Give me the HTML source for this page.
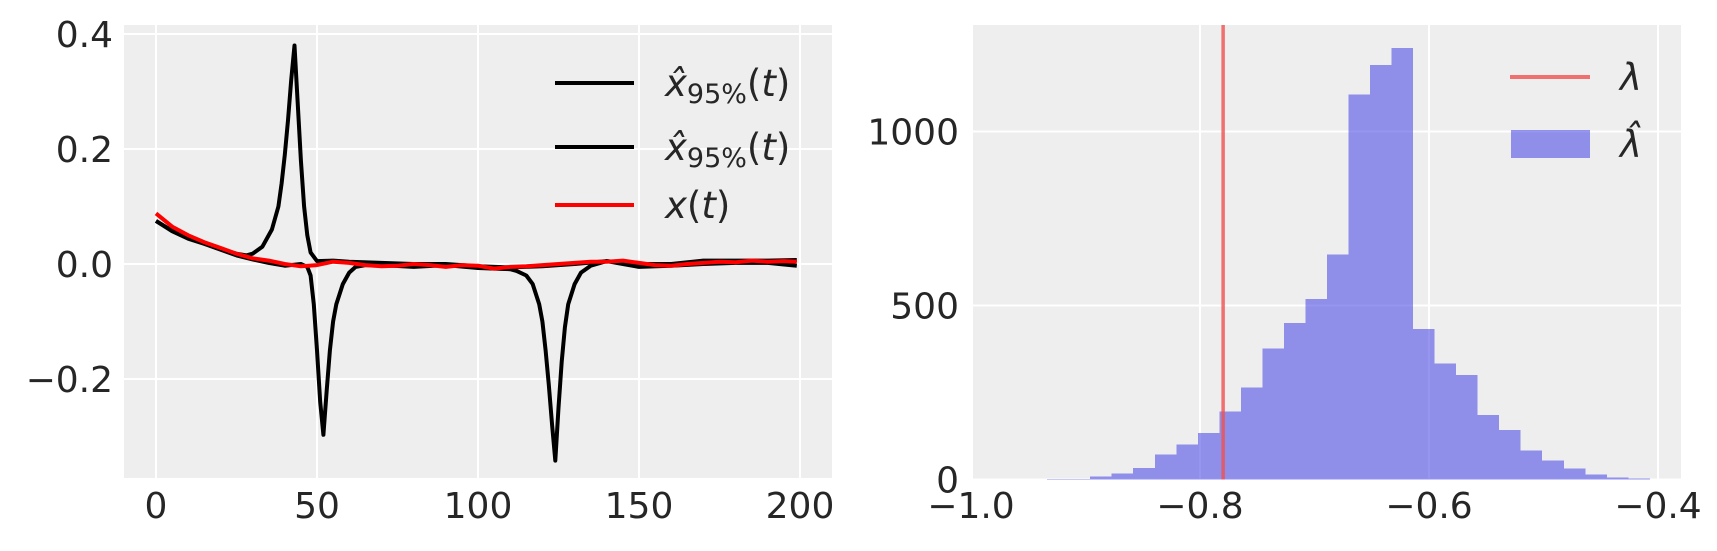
<!DOCTYPE html>
<html><head><meta charset="utf-8"><style>
html,body{margin:0;padding:0;background:#fff;}
svg text{font-family:"DejaVu Sans","Liberation Sans",sans-serif;fill:#262626;}
</style></head><body>
<svg id="fig" width="1717" height="546" xmlns="http://www.w3.org/2000/svg"></svg>
<script>
// ---- Left chart data ----
const upperT = [0,5,10,15,20,25,28,30,33,36,38,39,40,41,42,43,44,45,46,47,48,50,55,60,70,80,90,100,110,120,130,140,150,160,170,180,190,199];
const upperV = [0.075,0.058,0.045,0.036,0.026,0.018,0.015,0.018,0.03,0.06,0.1,0.14,0.19,0.25,0.32,0.38,0.28,0.18,0.1,0.05,0.02,0.005,0.006,0.004,0.002,0.0,0.0,-0.004,-0.006,-0.004,0.0,0.005,0.0,0.0,0.006,0.006,0.006,0.007];
const lowerT = [0,5,10,15,20,25,30,35,40,45,47,48,49,50,51,52,53,54,55,56,58,60,62,65,70,80,90,100,105,110,112,115,117,119,120,121,122,123,124,125,126,127,128,130,132,135,140,150,160,170,180,190,199];
const lowerV = [0.075,0.057,0.044,0.035,0.025,0.015,0.008,0.002,-0.003,0.0,-0.005,-0.02,-0.07,-0.15,-0.24,-0.297,-0.22,-0.15,-0.1,-0.07,-0.035,-0.015,-0.005,-0.002,-0.002,-0.005,-0.002,-0.007,-0.008,-0.009,-0.012,-0.02,-0.035,-0.07,-0.1,-0.15,-0.21,-0.28,-0.342,-0.25,-0.17,-0.11,-0.07,-0.035,-0.015,-0.003,0.005,-0.005,-0.003,0.0,0.002,0.002,-0.003];
const redT = [0,5,10,15,20,25,30,35,40,45,50,55,60,65,70,75,80,85,90,95,100,105,110,115,120,125,130,135,140,145,150,155,160,165,170,175,180,185,190,195,199];
const redV = [0.088,0.065,0.05,0.038,0.028,0.018,0.01,0.006,0.0,-0.004,-0.002,0.004,0.002,-0.002,-0.004,-0.003,0.0,-0.002,-0.005,-0.002,-0.003,-0.008,-0.005,-0.004,-0.002,0.0,0.002,0.004,0.004,0.006,0.002,-0.002,-0.003,0.0,0.002,0.004,0.003,0.006,0.004,0.005,0.004];
const leftXTicks = [0,50,100,150,200];
const leftYTicks = [-0.2,0.0,0.2,0.4];
const leftYLabels = ["\u22120.2","0.0","0.2","0.4"];
// ---- Right chart data ----
const binStart = -0.9335;
const binWidth = 0.0188;
const binCounts = [2,2,9,17,33,72,101,133,196,265,377,450,519,646,1107,1191,1240,433,334,300,185,142,83,55,32,14,6,3];
const lambdaTrue = -0.7798;
const rightXTicks = [-1.0,-0.8,-0.6,-0.4];
const rightXLabels = ["\u22121.0","\u22120.8","\u22120.6","\u22120.4"];
const rightYTicks = [0,500,1000];

const NS="http://www.w3.org/2000/svg";
const svg=document.getElementById('fig');
function mk(tag,attrs,parent){const e=document.createElementNS(NS,tag);for(const k in attrs)e.setAttribute(k,attrs[k]);(parent||svg).appendChild(e);return e;}

// Left axes
const L={x0:124,x1:832,y0:25,y1:478};
const lx=t=>156+t*(800-156)/200;
const ly=v=>264-v*(264-34)/0.4;
const lbg=mk('rect',{x:L.x0,y:L.y0,width:L.x1-L.x0,height:L.y1-L.y0,fill:'#eeeeee'});


leftXTicks.forEach(t=>{
  const g=mk('line',{x1:lx(t),x2:lx(t),y1:L.y0,y2:L.y1,stroke:'#fff','stroke-width':2});
  
  
  const tx=mk('text',{x:lx(t),y:518,'font-size':36,'text-anchor':'middle'});tx.textContent=t;
  
  
});
leftYTicks.forEach((v,i)=>{
  const g=mk('line',{x1:L.x0,x2:L.x1,y1:ly(v),y2:ly(v),stroke:'#fff','stroke-width':2});
  
  
  const tx=mk('text',{x:113,y:ly(v)+13,'font-size':36,'text-anchor':'end'});tx.textContent=leftYLabels[i];
  
  
});
function path(T,V,color,name){
  const d=T.map((t,i)=>(i?'L':'M')+lx(t).toFixed(1)+','+ly(V[i]).toFixed(1)).join('');
  const p=mk('path',{d:d,fill:'none',stroke:color,'stroke-width':4,'stroke-linejoin':'round'});
  
  
}
path(upperT,upperV,'#000','upper-quantile-line');
path(lowerT,lowerV,'#000','lower-quantile-line');
path(redT,redV,'#ff0000','true-signal-line');
// left legend
const legItems=[['#000',83],['#000',147],['#ff0000',205]];
legItems.forEach((it,i)=>{
  const y=it[1];
  const ln=mk('line',{x1:555,x2:634,y1:y,y2:y,stroke:it[0],'stroke-width':4});
  
  
  const tx=mk('text',{x:665,y:y+13,'font-size':37});
  
  
  if(i<2){
    tx.innerHTML='<tspan font-style="italic">x̂</tspan><tspan font-size="27" dy="7">95%</tspan><tspan dy="-7">(</tspan><tspan font-style="italic">t</tspan><tspan>)</tspan>';
  } else {
    tx.innerHTML='<tspan font-style="italic">x</tspan><tspan>(</tspan><tspan font-style="italic">t</tspan><tspan>)</tspan>';
  }
});

// Right axes
const R={x0:973,x1:1681,y0:25,y1:479.5};
const rx=v=>971+(v+1.0)*(229/0.2);
const ry=c=>479.5-c*(174/500);
const rbg=mk('rect',{x:R.x0,y:R.y0,width:R.x1-R.x0,height:R.y1-R.y0,fill:'#eeeeee'});


rightXTicks.forEach((v,i)=>{
  const g=mk('line',{x1:rx(v),x2:rx(v),y1:R.y0,y2:R.y1,stroke:'#fff','stroke-width':2});
  
  
  const tx=mk('text',{x:rx(v),y:518,'font-size':36,'text-anchor':'middle'});tx.textContent=rightXLabels[i];
  
  
});
rightYTicks.forEach(c=>{
  const g=mk('line',{x1:R.x0,x2:R.x1,y1:ry(c),y2:ry(c),stroke:'#fff','stroke-width':2});
  
  
  const tx=mk('text',{x:959,y:ry(c)+13,'font-size':36,'text-anchor':'end'});tx.textContent=c;
  
  
});
binCounts.forEach((c,i)=>{
  const a=binStart+i*binWidth;
  const b=mk('rect',{x:rx(a),y:ry(c),width:rx(a+binWidth)-rx(a),height:ry(0)-ry(c),fill:'rgba(80,80,230,0.6)','shape-rendering':'crispEdges'});
  
  
});
const vl=mk('line',{x1:rx(lambdaTrue),x2:rx(lambdaTrue),y1:R.y0,y2:R.y1,stroke:'rgba(240,80,80,0.8)','stroke-width':3.5});


// right legend
const rl=mk('line',{x1:1510,x2:1590,y1:77,y2:77,stroke:'rgba(240,80,80,0.8)','stroke-width':4});


const rt1=mk('text',{x:1620,y:90,'font-size':37,'font-style':'italic'});rt1.textContent='λ';


const rp=mk('rect',{x:1511,y:130,width:79,height:28,fill:'rgba(80,80,230,0.6)'});


const rt2=mk('text',{x:1620,y:157,'font-size':37,'font-style':'italic'});rt2.textContent='λ̂';


</script>
</body></html>
